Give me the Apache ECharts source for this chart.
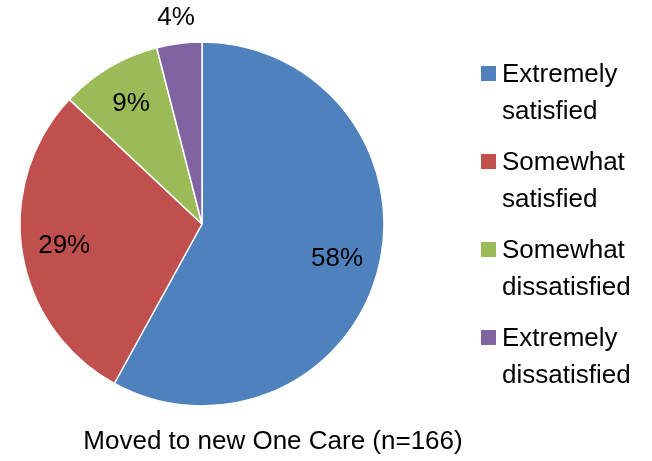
<!DOCTYPE html>
<html>
<head>
<meta charset="utf-8">
<script src="https://cdn.jsdelivr.net/npm/echarts@6/dist/echarts.min.js"></script>
<style>
  html, body { margin: 0; padding: 0; background: #fff; }
  #chart { width: 652px; height: 461px; }
</style>
</head>
<body>
<div id="chart"></div>
<script>
// satisfaction shares, percent
var categories = ['Extremely satisfied', 'Somewhat satisfied', 'Somewhat dissatisfied', 'Extremely dissatisfied'];
var legendNames = ['Extremely\nsatisfied', 'Somewhat\nsatisfied', 'Somewhat\ndissatisfied', 'Extremely\ndissatisfied'];
var values = [58, 29, 9, 4];
var colors = ['#4F81BD', '#C0504D', '#9BBB59', '#8064A2'];

var font = '"Liberation Sans", Arial, sans-serif';

var myChart = echarts.init(document.getElementById('chart'));

var pieData = values.map(function (v, i) {
  return { name: categories[i], value: v, itemStyle: { color: colors[i] } };
});

// label ring: transparent copy, so the inside labels sit further out
var labelData = values.map(function (v, i) {
  var d = { name: categories[i], value: v };
  if (i === values.length - 1) {
    d.label = { position: 'outside', distanceToLabelLine: -19 };
    d.labelLine = { show: false, length: 26, length2: 0 };
  }
  return d;
});

option = {
  animation: false,
  title: {
    text: 'Moved to new One Care (n=166)',
    left: 268,
    textAlign: 'center',
    top: 424,
    textStyle: { fontFamily: font, fontSize: 26, fontWeight: 'normal', color: '#000' }
  },
  legend: {
    orient: 'vertical',
    left: 474,
    top: 50,
    itemWidth: 17,
    itemHeight: 74,
    itemGap: 12,
    icon: 'path://M0,0L0,0M0,9H17V26H0ZM0,74L0,74',
    data: categories,
    formatter: function (name) {
      return legendNames[categories.indexOf(name)];
    },
    textStyle: { fontFamily: font, fontSize: 26, lineHeight: 37, color: '#000' }
  },
  series: [{
    type: 'pie',
    center: [202, 224],
    radius: [0, 182],
    startAngle: 90,
    label: { show: false },
    labelLine: { show: false },
    itemStyle: { borderColor: '#fff', borderWidth: 1.5 },
    emphasis: { disabled: true },
    data: pieData
  }, {
    type: 'pie',
    center: [202, 224],
    radius: [91, 182],
    startAngle: 90,
    silent: true,
    avoidLabelOverlap: false,
    itemStyle: { color: 'rgba(0,0,0,0)' },
    label: {
      show: true,
      position: 'inside',
      formatter: '{c}%',
      fontFamily: font,
      fontSize: 26,
      color: '#000'
    },
    labelLine: { show: false },
    emphasis: { disabled: true },
    data: labelData
  }]
};

myChart.setOption(option);
</script>
</body>
</html>
